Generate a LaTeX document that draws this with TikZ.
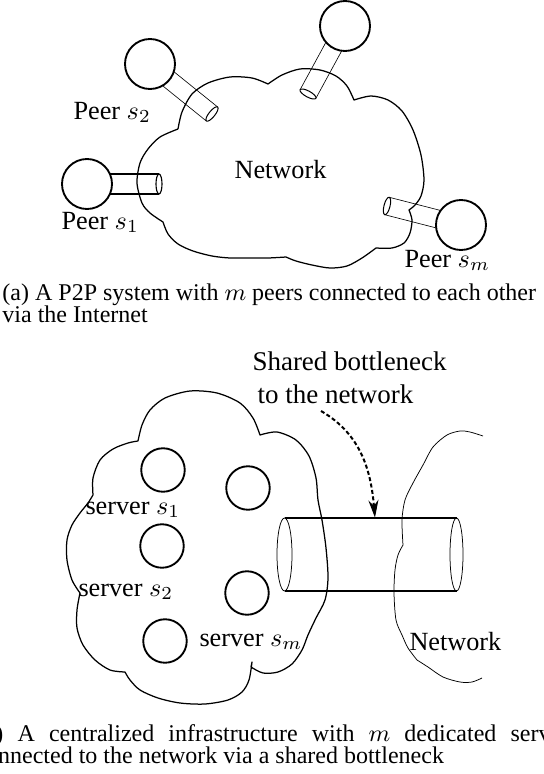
\RequirePackage{fix-cm}
\documentclass[tikz,border=0pt]{standalone}
\usepackage[no-math]{fontspec}
\setmainfont{Liberation Serif}
\usetikzlibrary{calc,positioning,shapes,arrows.meta,backgrounds}

% pipe from a peer (#2) to its loose end (#3), half width #4
\newcommand{\pipeto}[4][]{%
  \pgfmathsetlengthmacro{\pipedia}{2*#4}%
  \draw[pipe,#1] ($(#2)!#4!90:(#3)$) -- ($(#3)!#4!-90:(#2)$)
                 ($(#2)!#4!-90:(#3)$) -- ($(#3)!#4!90:(#2)$);
  \path let \p1=($(#3)-(#2)$), \n1={atan2(\y1,\x1)} in
    (#3) node[pipeend,#1,rotate=\n1,minimum height=\pipedia] {};
}

\begin{document}
\begin{tikzpicture}[x=0.4pt,y=-0.4pt,
    peer/.style={circle, draw, line width=0.75pt, fill=white, minimum size=20pt, inner sep=0pt},
    server/.style={circle, draw, line width=0.75pt, minimum size=17.4pt, inner sep=0pt},
    pipe/.style={line width=0.25pt},
    pipeend/.style={ellipse, draw, inner sep=0pt, minimum width=2.4pt},
    cloudline/.style={line width=0.5pt, line join=round},
    thincloud/.style={line width=0.3pt, line join=round},
    neckend/.style={ellipse, draw, line width=0.3pt, inner sep=0pt, minimum height=29.2pt},
    neck/.style={line width=0.8pt},
    lbl/.style={inner sep=0pt, anchor=base west, font=\fontsize{10.5}{12.6}\selectfont},
    notetxt/.style={inner sep=0pt, anchor=base west, font=\fontsize{10.8}{13}\selectfont},
    captxt/.style={inner sep=0pt, anchor=base west, font=\fontsize{9.6}{11}\selectfont},
    bnarrow/.style={line width=0.8pt, dash pattern=on 1.6pt off 1pt, -{Stealth[length=7pt,width=4pt]}}]

\useasboundingbox (0,0) rectangle (544,774);
\clip (0,0) rectangle (544,774);

%% (a) peers and the network
\node[peer] (p1) at (87,184) {};
\node[peer] (p2) at (150,64) {};
\node[peer] (p3) at (345,26) {};
\node[peer] (pm) at (461,225) {};

\coordinate (e1) at (159,184);
\coordinate (e2) at (212,114);
\coordinate (e3) at (308,94);
\coordinate (em) at (387,206);

\begin{scope}[on background layer]
    \pipeto[line width=0.45pt]{p1}{e1}{4pt}
    \pipeto{p2}{e2}{3.6pt}
    \pipeto{p3}{e3}{3.6pt}
    \pipeto{pm}{em}{3.6pt}
\end{scope}

% network cloud
\draw[cloudline] plot[smooth] coordinates {(178,129) (182,112) (192,94) (208,83) (230,77) (252,78) (268,84)}
    -- plot[smooth] coordinates {(268,84) (282,75) (300,69) (320,70) (336,76) (347,86) (354,100)}
    -- plot[smooth] coordinates {(354,100) (371,96) (388,100) (402,111) (413,130) (421,155) (424,180) (421,196) (415,205) (409,210)}
    -- plot[smooth] coordinates {(409,210) (412,220) (410,233) (404,243) (392,248) (376,248)}
    -- plot[smooth] coordinates {(376,248) (362,258) (347,266) (330,268) (312,265) (296,261) (286,257)}
    -- plot[smooth] coordinates {(286,257) (268,258) (250,258) (230,258) (212,256) (193,251) (178,244) (168,234) (163,222)}
    -- plot[smooth] coordinates {(163,222) (150,213) (142,203) (137,183) (140,163) (148,149) (160,137) (178,129)};

\node[lbl, anchor=base] (neta) at (280.5,178) {Network};
\node[lbl] (l1) at (61,229) {Peer $s_1$};
\node[lbl] (l2) at (73,119) {Peer $s_2$};
\node[lbl] (lm) at (404,267) {Peer $s_m$};

\node[captxt] (capa1) at (2,300) {(a) A P2P system with $m$ peers connected to each other};
\node[captxt] (capa2) at (2,322) {via the Internet};

%% (b) servers behind a shared bottleneck
\draw[cloudline] plot[smooth] coordinates {(93,495) (93,478) (100,460) (113,449) (128,443) (138,441)}
    -- plot[smooth] coordinates {(138,441) (142,425) (150,410) (165,398) (190,391) (217,393) (240,403) (253,418) (260,435)}
    -- plot[smooth] coordinates {(260,435) (277,432) (296,440) (309,456) (316,478) (318,500) (322,520) (326,548) (328,578) (325,600) (316,618) (308,635) (302,650) (292,664) (278,672) (263,673) (251,667)}
    -- plot[smooth] coordinates {(252,662) (249,680) (242,692) (228,700) (205,704) (180,703) (158,698) (140,690) (130,680) (125,672)}
    -- plot[smooth] coordinates {(125,672) (110,670) (95,660) (83,645) (77,628) (77,610) (80,593)}
    -- plot[smooth] coordinates {(80,593) (72,580) (67,560) (67,540) (72,525) (80,513) (88,503) (93,495)};

\draw[thincloud] plot[smooth] coordinates {(483,436) (470,432) (460,431) (447,435) (433,447) (423,465) (413,483) (405,500) (402,520) (403,545)}
    -- plot[smooth] coordinates {(403,545) (398,555) (395,570) (394,593) (396,620) (402,635) (408,648) (417,660)}
    -- plot[smooth] coordinates {(417,660) (428,667) (443,677) (460,682) (472,682) (482,678)};

\node[server] (srv1) at (163,470) {};
\node[server] (srv2) at (162,546) {};
\node[server] (srv3) at (165,641) {};
\node[server] (srv4) at (248,488) {};
\node[server] (srv5) at (247,593) {};

\node[lbl] (ls1) at (85,514) {server $s_1$};
\node[lbl] (ls2) at (78,596) {server $s_2$};
\node[lbl] (lsm) at (199,646) {server $s_m$};
\node[lbl] (netb) at (409,650) {Network};

% the bottleneck pipe
\node[neckend, minimum width=6pt] (nl) at (284.5,554.5) {};
\node[neckend, minimum width=5.2pt] (nr) at (456.5,554.5) {};
\draw[neck] (nl.north) -- (nr.north);
\draw[neck] (nl.south) -- (nr.south);

\node[notetxt] (note1) at (252,370) {Shared bottleneck};
\node[notetxt] (note2) at (257,403) {to the network};
\coordinate (arrfrom) at (321,411);
\coordinate (arrto) at ($(nl.north)!0.526!(nr.north)$);
\draw[bnarrow] (arrfrom) to[out=-30,in=95] (arrto);

\node[captxt] (capb1) at (-25,741) {\makebox[241.2pt][s]{(b) A centralized infrastructure with $m$ dedicated servers}};
\node[captxt] (capb2) at (-25,763) {connected to the network via a shared bottleneck};
\end{tikzpicture}
\end{document}
